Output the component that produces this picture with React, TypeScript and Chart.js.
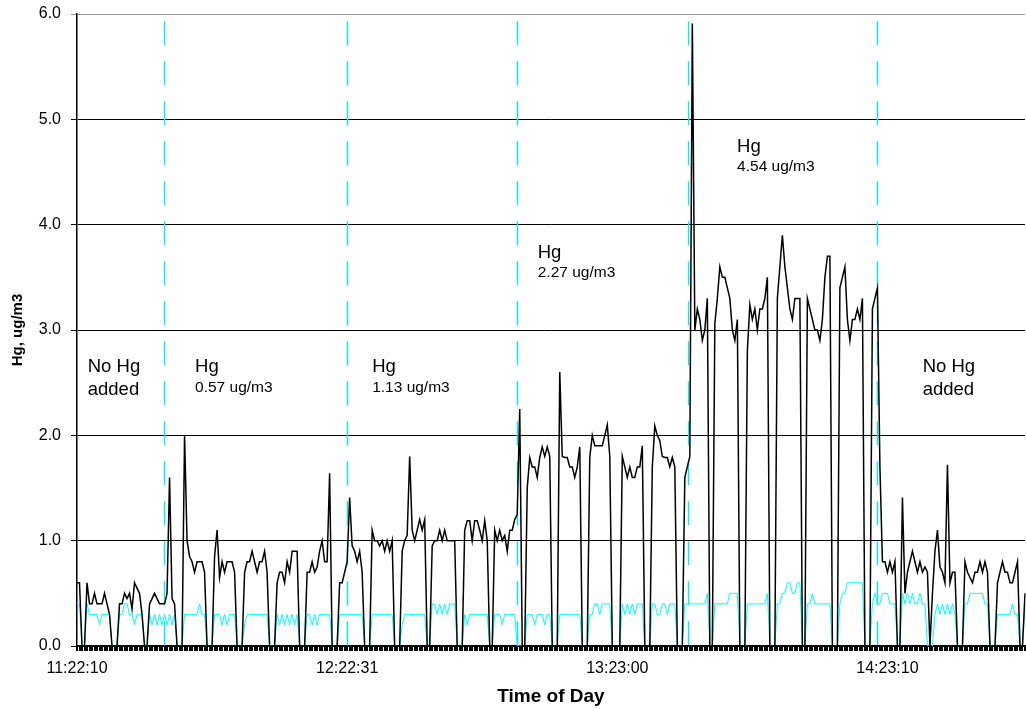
import React, { useEffect, useRef } from 'react';
import { Chart, registerables } from 'chart.js';

Chart.register(...registerables);

// Tick labels on the time axis and the sample index at which each sits
const tickLabels = ['11:22:10', '12:22:31', '13:23:00', '14:23:10'];
const tickSampleIndex = [0, 108, 216, 324];

// Hg concentration (ug/m3), black trace
const hgValues = [
  0.6, 0.6, 0, 0, 0.6, 0.4, 0.4, 0.5, 0.4, 0.4,
  0.4, 0.5, 0.4, 0.3, 0, 0, 0, 0.4, 0.4, 0.5,
  0.45, 0.5, 0.35, 0.6, 0.55, 0.5, 0.3, 0, 0, 0.4,
  0.45, 0.5, 0.45, 0.4, 0.4, 0.4, 0.5, 1.6, 0.45, 0.4,
  0, 0, 0, 2.0, 1.0, 0.85, 0.8, 0.7, 0.8, 0.8,
  0.8, 0.7, 0, 0, 0, 0.85, 1.1, 0.65, 0.8, 0.7,
  0.8, 0.8, 0.8, 0.7, 0, 0, 0, 0.7, 0.8, 0.8,
  0.9, 0.8, 0.7, 0.8, 0.8, 0.9, 0.7, 0, 0, 0,
  0.6, 0.7, 0.7, 0.6, 0.8, 0.7, 0.9, 0.9, 0.9, 0,
  0, 0, 0.7, 0.7, 0.8, 0.7, 0.75, 0.9, 1.0, 0.8,
  0.8, 1.64, 0, 0, 0, 0.6, 0.6, 0.7, 0.8, 1.41,
  0.95, 0.9, 0.8, 0.9, 0.7, 0, 0, 0, 1.1, 1.0,
  1.0, 0.95, 1.0, 0.9, 1.0, 0.9, 1.0, 0, 0, 0,
  0.9, 1.0, 1.05, 1.8, 1.1, 1.0, 1.1, 1.2, 1.1, 1.2,
  0, 0, 0.95, 1.0, 1.0, 1.1, 1.0, 1.1, 1.0, 1.0,
  1.0, 1.0, 0, 0, 0, 1.1, 1.19, 1.19, 1.0, 1.19,
  1.19, 1.1, 1.0, 1.19, 1.0, 0, 0, 1.1, 1.0, 1.1,
  1.0, 1.05, 0.9, 1.1, 1.1, 1.2, 1.25, 2.25, 0, 0,
  1.5, 1.79, 1.7, 1.7, 1.6, 1.79, 1.89, 1.8, 1.89, 1.8,
  0, 0, 0, 2.6, 1.8, 1.79, 1.79, 1.7, 1.7, 1.6,
  1.7, 1.89, 0, 0, 0, 1.79, 2.0, 1.9, 1.9, 1.9,
  1.9, 2.0, 2.1, 1.8, 0, 0, 0, 0, 1.8, 1.7,
  1.6, 1.7, 1.6, 1.6, 1.7, 1.7, 1.9, 0, 0, 0,
  1.7, 2.09, 2.0, 1.95, 1.8, 1.79, 1.79, 1.7, 1.79, 1.7,
  0, 0, 0, 1.6, 1.7, 1.8, 5.91, 3.0, 3.2, 3.1,
  2.9, 3.0, 3.3, 0, 0, 3.06, 3.3, 3.6, 3.5, 3.5,
  3.4, 3.3, 3.0, 2.9, 3.1, 0, 0, 0, 2.8, 3.24,
  3.1, 3.2, 3.0, 3.2, 3.2, 3.3, 3.5, 0, 0, 0,
  3.3, 3.6, 3.9, 3.6, 3.4, 3.2, 3.1, 3.3, 3.3, 3.3,
  0, 0, 3.3, 3.2, 3.1, 3.0, 3.0, 2.9, 3.1, 3.5,
  3.7, 3.7, 0, 0, 0, 3.4, 3.5, 3.6, 3.1, 2.9,
  3.1, 3.1, 3.2, 3.1, 3.3, 0, 0, 0, 3.2, 3.3,
  3.4, 1.7, 0.8, 0.8, 0.7, 0.8, 0.7, 0.8, 0, 0,
  1.41, 0.5, 0.7, 0.8, 0.9, 0.8, 0.7, 0.8, 0.7, 0.75,
  0.7, 0, 0.5, 0.9, 1.1, 0.75, 0.7, 0.6, 1.72, 0.6,
  0.7, 0.7, 0, 0, 0, 0.8, 0.7, 0.65, 0.6, 0.7,
  0.7, 0.8, 0.7, 0.8, 0.7, 0, 0, 0, 0.6, 0.7,
  0.8, 0.7, 0.7, 0.6, 0.6, 0.7, 0.8, 0, 0, 0.5,
];

// Second (cyan) trace
const baselineValues = [
  0.4, 0.4, 0, 0, 0.4, 0.3, 0.3, 0.3, 0.3, 0.2,
  0.3, 0.3, 0.3, 0.3, 0, 0, 0, 0.3, 0.3, 0.4,
  0.4, 0.3, 0.3, 0.2, 0.3, 0.3, 0.3, 0, 0, 0.3,
  0.2, 0.3, 0.2, 0.3, 0.2, 0.3, 0.2, 0.3, 0.2, 0.3,
  0, 0, 0, 0.3, 0.3, 0.3, 0.3, 0.3, 0.3, 0.4,
  0.3, 0.3, 0, 0, 0, 0.3, 0.3, 0.3, 0.2, 0.3,
  0.2, 0.3, 0.3, 0.3, 0, 0, 0, 0.2, 0.3, 0.3,
  0.3, 0.3, 0.3, 0.3, 0.3, 0.3, 0.3, 0, 0, 0,
  0.3, 0.2, 0.3, 0.2, 0.3, 0.2, 0.3, 0.2, 0.3, 0,
  0, 0, 0.3, 0.3, 0.2, 0.3, 0.2, 0.3, 0.3, 0.3,
  0.3, 0.3, 0, 0, 0, 0.3, 0.3, 0.3, 0.3, 0.3,
  0.3, 0.3, 0.3, 0.3, 0.3, 0, 0, 0, 0.3, 0.3,
  0.3, 0.3, 0.3, 0.3, 0.3, 0.3, 0.3, 0, 0, 0,
  0.2, 0.3, 0.3, 0.3, 0.3, 0.3, 0.3, 0.3, 0.3, 0.3,
  0, 0, 0.4, 0.4, 0.3, 0.4, 0.3, 0.4, 0.3, 0.4,
  0.4, 0.4, 0, 0, 0, 0.3, 0.2, 0.3, 0.3, 0.3,
  0.3, 0.3, 0.3, 0.3, 0.3, 0, 0, 0.3, 0.3, 0.3,
  0.2, 0.3, 0.3, 0.3, 0.3, 0.3, 0, 0, 0, 0,
  0.3, 0.3, 0.3, 0.2, 0.3, 0.3, 0.3, 0.2, 0.3, 0.3,
  0, 0, 0, 0.3, 0.3, 0.3, 0.3, 0.3, 0.3, 0.3,
  0.3, 0.3, 0, 0, 0, 0.3, 0.3, 0.4, 0.4, 0.3,
  0.4, 0.4, 0.4, 0.4, 0, 0, 0, 0, 0.4, 0.3,
  0.4, 0.3, 0.4, 0.3, 0.4, 0.4, 0.4, 0, 0, 0,
  0.4, 0.4, 0.3, 0.3, 0.4, 0.4, 0.3, 0.4, 0.4, 0.4,
  0, 0, 0, 0.4, 0.4, 0.4, 0.4, 0.4, 0.4, 0.4,
  0.4, 0.4, 0.5, 0, 0, 0.4, 0.4, 0.4, 0.4, 0.4,
  0.4, 0.5, 0.5, 0.5, 0.5, 0, 0, 0, 0.4, 0.4,
  0.4, 0.4, 0.4, 0.4, 0.4, 0.4, 0.5, 0, 0, 0,
  0.4, 0.4, 0.5, 0.5, 0.6, 0.6, 0.5, 0.5, 0.6, 0.6,
  0, 0, 0.4, 0.4, 0.5, 0.4, 0.4, 0.4, 0.4, 0.4,
  0.4, 0.4, 0, 0, 0, 0.4, 0.5, 0.5, 0.6, 0.6,
  0.6, 0.6, 0.6, 0.6, 0.6, 0, 0, 0, 0.4, 0.5,
  0.4, 0.4, 0.5, 0.5, 0.5, 0.4, 0.4, 0.4, 0, 0,
  0.5, 0.4, 0.5, 0.4, 0.5, 0.4, 0.4, 0.5, 0.4, 0.4,
  0, 0, 0, 0.3, 0.4, 0.3, 0.4, 0.3, 0.4, 0.3,
  0.4, 0.3, 0, 0, 0, 0.4, 0.4, 0.5, 0.5, 0.5,
  0.5, 0.5, 0.5, 0.4, 0.4, 0, 0, 0, 0.3, 0.3,
  0.3, 0.3, 0.3, 0.3, 0.4, 0.3, 0.3, 0, 0, 0.4,
];

// Phase boundaries (sample index) where Hg dosing changed
const phaseBoundaries = [34.8, 108, 175.9, 244.2, 319.9];

// Phase notes: heading and sub text
const noteHeadings = ['No Hg', 'Hg', 'Hg', 'Hg', 'Hg', 'No Hg'];
const noteSubs = ['added', '0.57 ug/m3', '1.13 ug/m3', '2.27 ug/m3', '4.54 ug/m3', 'added'];
const noteSubIsLarge = [true, false, false, false, false, true];
// anchor in data units: sample index and value of heading / sub baselines
const noteSample = [4.3, 47.2, 118, 184.2, 263.9, 338.1];
const noteHeadingValue = [2.6, 2.6, 2.6, 3.68, 4.69, 2.6];
const noteSubValue = [2.38, 2.41, 2.41, 3.5, 4.51, 2.38];

const FONT = '"Liberation Sans", Arial, Helvetica, sans-serif';

const categories = hgValues.map((_, i) => {
  const k = tickSampleIndex.indexOf(i);
  return k >= 0 ? tickLabels[k] : '';
});

const overlayPlugin = {
  id: 'phaseOverlay',
  beforeDatasetsDraw(chart: any) {
    const { ctx, scales } = chart;
    const x = scales.x;
    const y = scales.y;
    ctx.save();
    ctx.strokeStyle = '#00F0F0';
    ctx.lineWidth = 1.4;
    ctx.setLineDash([24, 16]);
    for (const b of phaseBoundaries) {
      const px = Math.round(x.getPixelForValue(b)) + 0.5;
      ctx.beginPath();
      ctx.moveTo(px, y.getPixelForValue(5.93));
      ctx.lineTo(px, y.getPixelForValue(0));
      ctx.stroke();
    }
    ctx.restore();
  },
  afterDatasetsDraw(chart: any) {
    const { ctx, scales } = chart;
    const x = scales.x;
    const y = scales.y;
    ctx.save();
    ctx.fillStyle = '#000';
    ctx.textAlign = 'left';
    ctx.textBaseline = 'alphabetic';
    for (let i = 0; i < noteHeadings.length; i++) {
      const px = x.getPixelForValue(noteSample[i]);
      ctx.font = `18.5px ${FONT}`;
      ctx.fillText(noteHeadings[i], px, y.getPixelForValue(noteHeadingValue[i]));
      ctx.font = noteSubIsLarge[i] ? `18.5px ${FONT}` : `15.5px ${FONT}`;
      ctx.fillText(noteSubs[i], px, y.getPixelForValue(noteSubValue[i]));
    }
    ctx.restore();
  },
};

export default function App() {
  const ref = useRef<HTMLCanvasElement | null>(null);

  useEffect(() => {
    if (!ref.current) return;
    Chart.defaults.font.family = FONT;
    const chart = new Chart(ref.current, {
      type: 'line',
      data: {
        labels: categories,
        datasets: [
          {
            label: 'Hg',
            data: hgValues,
            borderColor: '#000000',
            borderWidth: 1.5,
            pointRadius: 0,
            tension: 0,
            fill: false,
          },
          {
            label: 'Baseline',
            data: baselineValues,
            borderColor: '#00FFFF',
            borderWidth: 1,
            pointRadius: 0,
            tension: 0,
            fill: false,
          },
        ],
      },
      options: {
        responsive: false,
        animation: false,
        devicePixelRatio: 1,
        layout: { padding: { top: 14, left: 0, right: 1, bottom: 0 } },
        plugins: {
          legend: { display: false },
          tooltip: { enabled: false },
        },
        scales: {
          x: {
            type: 'category',
            offset: false,
            afterFit: (scale: any) => {
              scale.height = 63;
              scale.paddingLeft = 0;
              scale.paddingRight = 0;
            },
            grid: {
              display: true,
              drawOnChartArea: false,
              drawTicks: true,
              tickLength: 5,
              color: '#000',
              lineWidth: 2,
            },
            border: { display: true, color: '#000', width: 1.5 },
            ticks: {
              autoSkip: false,
              maxRotation: 0,
              minRotation: 0,
              padding: 8,
              color: '#000',
              font: { size: 16, family: FONT },
            },
            title: {
              display: true,
              text: 'Time of Day',
              color: '#000',
              font: { size: 19, weight: 'bold', family: FONT },
              padding: { top: 0, bottom: 1 },
            },
          },
          y: {
            type: 'linear',
            min: 0,
            max: 6,
            afterFit: (scale: any) => {
              scale.width = 77;
              scale.paddingTop = 0;
              scale.paddingBottom = 0;
            },
            grid: {
              color: (c: any) => (c.tick && c.tick.value === 6 ? '#999' : '#000'),
              lineWidth: 1,
              drawTicks: true,
              tickLength: 6,
            },
            border: { display: true, color: '#000', width: 1.5 },
            ticks: {
              stepSize: 1,
              padding: 10,
              color: '#000',
              font: { size: 16, family: FONT },
              callback: (v: any) => Number(v).toFixed(1),
            },
            title: {
              display: true,
              text: 'Hg, ug/m3',
              color: '#000',
              font: { size: 15, weight: 'bold', family: FONT },
              padding: { top: 9, bottom: 0 },
            },
          },
        },
      },
      plugins: [overlayPlugin],
    });
    return () => chart.destroy();
  }, []);

  return (
    <div
      style={{
        position: 'fixed',
        left: 0,
        top: 0,
        width: 1026,
        height: 709,
        overflow: 'hidden',
        background: '#fff',
      }}
    >
      <canvas ref={ref} width={1026} height={709} style={{ display: 'block', width: 1026, height: 709 }} />
    </div>
  );
}
